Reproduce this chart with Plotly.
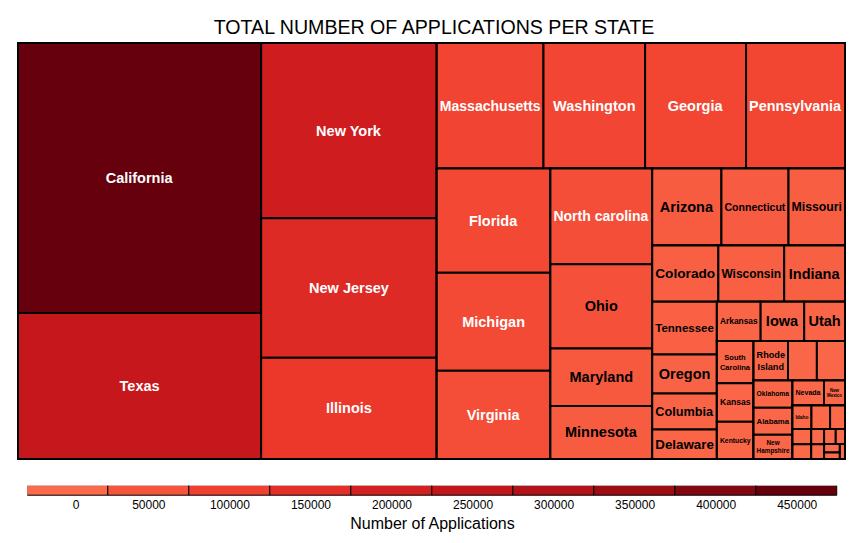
import plotly.graph_objects as go

# ---------------- data ----------------
states = [
    "California", "Texas", "New York", "New Jersey", "Illinois",
    "Massachusetts", "Washington", "Georgia", "Pennsylvania",
    "Florida", "Michigan", "Virginia",
    "North carolina", "Ohio", "Maryland", "Minnesota",
    "Arizona", "Connecticut", "Missouri",
    "Colorado", "Wisconsin", "Indiana",
    "Tennessee", "Oregon", "Columbia", "Delaware",
    "Arkansas", "Iowa", "Utah",
    "South Carolina", "Kansas", "Kentucky",
    "Rhode Island", "Louisiana", "Nebraska",
    "Oklahoma", "Alabama", "New Hampshire",
    "Nevada", "New Mexico",
    "Idaho", "Maine", "Vermont",
    "Mississippi", "West Virginia", "Hawaii", "Alaska", "Montana",
    "North Dakota", "South Dakota", "Wyoming", "Puerto Rico",
]
display_text = [
    "California", "Texas", "New York", "New Jersey", "Illinois",
    "Massachusetts", "Washington", "Georgia", "Pennsylvania",
    "Florida", "Michigan", "Virginia",
    "North carolina", "Ohio", "Maryland", "Minnesota",
    "Arizona", "Connecticut", "Missouri",
    "Colorado", "Wisconsin", "Indiana",
    "Tennessee", "Oregon", "Columbia", "Delaware",
    "Arkansas", "Iowa", "Utah",
    "South<br>Carolina", "Kansas", "Kentucky",
    "Rhode<br>Island", "", "",
    "Oklahoma", "Alabama", "New<br>Hampshire",
    "Nevada", "New<br>Mexico",
    "Idaho", "", "",
    "", "", "", "", "",
    "", "", "", "",
]
applications = [
    450000, 243300, 211000, 167800, 121900,
    91800, 87400, 86800, 85100,
    81300, 76300, 68700,
    66800, 58800, 40200, 37000,
    36500, 35400, 29800,
    25500, 25400, 23450,
    23400, 17300, 15900, 13100,
    11800, 11750, 11000,
    10600, 9700, 9350,
    9300, 7800, 7600,
    7250, 7200, 6500,
    5400, 3600,
    3050, 3000, 2400,
    1950, 1900, 1350, 1300, 1200, 950, 900, 700, 550,
]

legend_bins = [0, 50000, 100000, 150000, 200000, 250000, 300000, 350000, 400000, 450000]
legend_ticktext = ["\u00a0\u00a0\u00a0\u00a0\u00a00", "50000", "100000", "150000", "200000",
                   "250000", "300000", "350000", "400000", "450000"]

# Pivot-by-size partition (as produced by R's treemap default algorithm):
# (group id, split direction, members); members are states or other groups.
partition = [
    ("A", "x", ["ColA", "RestA"]),
    ("ColA", "y", ["California", "Texas"]),
    ("RestA", "x", ["ColB", "RestB"]),
    ("ColB", "y", ["New York", "New Jersey", "Illinois"]),
    ("RestB", "y", ["RowC", "RestC"]),
    ("RowC", "x", ["Massachusetts", "Washington", "Georgia", "Pennsylvania"]),
    ("RestC", "x", ["ColD", "RestD"]),
    ("ColD", "y", ["Florida", "Michigan", "Virginia"]),
    ("RestD", "x", ["ColE", "RestE"]),
    ("ColE", "y", ["North carolina", "Ohio", "Maryland", "Minnesota"]),
    ("RestE", "y", ["RowF", "RestF"]),
    ("RowF", "x", ["Arizona", "Connecticut", "Missouri"]),
    ("RestF", "y", ["RowG", "RestG"]),
    ("RowG", "x", ["Colorado", "Wisconsin", "Indiana"]),
    ("RestG", "x", ["ColH", "RestH"]),
    ("ColH", "y", ["Tennessee", "Oregon", "Columbia", "Delaware"]),
    ("RestH", "y", ["RowI", "RestI"]),
    ("RowI", "x", ["Arkansas", "Iowa", "Utah"]),
    ("RestI", "x", ["ColJ", "RestJ"]),
    ("ColJ", "y", ["South Carolina", "Kansas", "Kentucky"]),
    ("RestJ", "y", ["RowK", "RestK"]),
    ("RowK", "x", ["Rhode Island", "Louisiana", "Nebraska"]),
    ("RestK", "x", ["ColL", "RestL"]),
    ("ColL", "y", ["Oklahoma", "Alabama", "New Hampshire"]),
    ("RestL", "y", ["RowM", "RestM"]),
    ("RowM", "x", ["Nevada", "New Mexico"]),
    ("RestM", "y", ["RowN", "RestN"]),
    ("RowN", "x", ["Idaho", "Maine", "Vermont"]),
    ("RestN", "x", ["ColO", "RestO"]),
    ("ColO", "y", ["Mississippi", "West Virginia"]),
    ("RestO", "x", ["ColP", "RestP"]),
    ("ColP", "y", ["Hawaii", "Alaska"]),
    ("RestP", "y", ["RowQ", "RestQ"]),
    ("RowQ", "x", ["Montana", "North Dakota"]),
    ("RestQ", "x", ["ColR", "Puerto Rico"]),
    ("ColR", "y", ["South Dakota", "Wyoming"]),
]

# ---------------- style ----------------
reds_upper = [[0.0, "#FB6A4A"], [0.25, "#EF3B2C"], [0.5, "#CB181D"],
              [0.75, "#A50F15"], [1.0, "#67000D"]]
cmin, cmax = 0, 450000
FONT = "Liberation Sans, Arial, sans-serif"

# ---------------- build hierarchy (plotly slice-dice does the layout) ----------------
groups = {g: (d, m) for g, d, m in partition}
value_of = dict(zip(states, applications))
text_of = dict(zip(states, display_text))

ids, labels, parents, values, texts, colors, tcolors = [], [], [], [], [], [], []


def add_node(node, parent, depth):
    if node in groups:
        direction, members = groups[node]
        # slice-dice: even depth -> split along x, odd depth -> split along y
        if (depth % 2 == 0) != (direction == "x"):
            wid = node + "_wrap"
            ids.append(wid); labels.append(""); parents.append(parent)
            values.append(0); texts.append(""); colors.append(0); tcolors.append("black")
            parent, depth = wid, depth + 1
        ids.append(node); labels.append(""); parents.append(parent)
        values.append(0); texts.append(""); colors.append(0); tcolors.append("black")
        for m in members:
            add_node(m, node, depth + 1)
    else:
        v = value_of[node]
        ids.append(node); labels.append(node); parents.append(parent)
        values.append(v); texts.append(text_of[node]); colors.append(v)
        tcolors.append("white" if v > 62000 else "black")


# top-level members sit directly under the (implied) root, which splits along x
for member in groups["A"][1]:
    add_node(member, "", 1)

fig = go.Figure()

fig.add_trace(go.Treemap(
    ids=ids,
    labels=labels,
    parents=parents,
    values=values,
    branchvalues="remainder",
    text=texts,
    texttemplate="%{text}",
    textposition="middle center",
    textfont=dict(family=FONT, size=14.5, color=tcolors, weight="bold"),
    marker=dict(
        colors=colors,
        colorscale=reds_upper,
        cmin=cmin, cmax=cmax,
        showscale=False,
        line=dict(color="black", width=2),
        pad=dict(t=0, l=0, r=0, b=0),
    ),
    tiling=dict(packing="slice-dice", pad=0),
    pathbar=dict(visible=False),
    sort=False,
    hovertemplate="%{label}<br>%{value}<extra></extra>",
    domain=dict(x=[0, 1], y=[0.0817, 1]),
))

fig.add_trace(go.Bar(
    x=legend_bins,
    y=[1] * len(legend_bins),
    width=50000,
    marker=dict(color=legend_bins, colorscale=reds_upper, cmin=cmin, cmax=cmax,
                line=dict(color="black", width=1)),
    hoverinfo="skip",
    showlegend=False,
    xaxis="x", yaxis="y",
))

fig.update_layout(
    width=857, height=535,
    margin=dict(l=10, r=20, t=35, b=47),
    paper_bgcolor="white",
    plot_bgcolor="white",
    font=dict(family=FONT, color="black"),
    title=dict(text="TOTAL NUMBER OF APPLICATIONS PER STATE",
               x=(434 - 8) / 857, xanchor="center", y=1 - 19 / 535, yanchor="middle",
               font=dict(family=FONT, size=19.6, color="black")),
    xaxis=dict(domain=[0.01125, 0.9912], range=[-25000, 475000],
               tickmode="array", tickvals=legend_bins, ticktext=legend_ticktext,
               tickfont=dict(size=12, color="black"), ticks="", showgrid=False,
               zeroline=False, showline=False, fixedrange=True,
               title=dict(text="Number of Applications", font=dict(size=16, color="black"),
                          standoff=6)),
    yaxis=dict(domain=[0, 0.0227], range=[0, 1], visible=False, fixedrange=True),
    bargap=0,
)

fig.write_html("out.html")
